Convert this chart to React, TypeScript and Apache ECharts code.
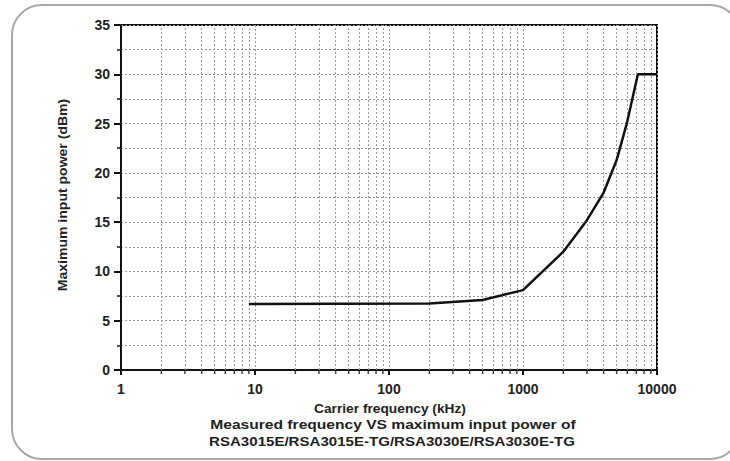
import React, { useEffect, useRef } from "react";
import * as echarts from "echarts";

const freqKHz = [9, 200, 500, 1000, 2000, 3000, 4000, 5000, 6000, 7200, 10000];
const maxPowerDbm = [6.7, 6.75, 7.1, 8.1, 12, 15.2, 18, 21.3, 25.2, 30, 30];
const minorFreqs = [
  2, 3, 4, 5, 6, 7, 8, 9,
  20, 30, 40, 50, 60, 70, 80, 90,
  200, 300, 400, 500, 600, 700, 800, 900,
  2000, 3000, 4000, 5000, 6000, 7000, 8000, 9000,
];
const xAxisTitle = "Carrier frequency (kHz)";
const yAxisTitle = "Maximum input power (dBm)";
const captionLines = [
  "Measured frequency VS maximum input power of",
  "RSA3015E/RSA3015E-TG/RSA3030E/RSA3030E-TG",
];

const FONT = "'Liberation Sans', Arial, sans-serif";

export default function App() {
  const ref = useRef<HTMLDivElement>(null);
  useEffect(() => {
    if (!ref.current) return;
    const chart = echarts.init(ref.current, undefined, { renderer: "svg" });
    const gridColor = "#999999";
    chart.setOption({
      animation: false,
      backgroundColor: "#ffffff",
      grid: {
        left: 121,
        right: 73,
        top: 25,
        bottom: 91,
        show: true,
        borderColor: "#111",
        borderWidth: 2,
      },
      xAxis: {
        type: "log",
        logBase: 10,
        min: 1,
        max: 10000,
        axisLine: { show: true, lineStyle: { color: "#111", width: 2 } },
        axisTick: { show: true, length: 5, lineStyle: { color: "#111", width: 2 } },
        axisLabel: {
          color: "#222",
          fontFamily: FONT,
          fontWeight: "bold",
          fontSize: 14,
          margin: 12,
          formatter: (v: number) => String(Math.round(v)),
        },
        splitLine: { show: true, lineStyle: { color: gridColor, type: [2, 2], width: 1 } },
        minorTick: { show: false },
      },
      yAxis: {
        type: "value",
        min: 0,
        max: 35,
        interval: 5,
        axisLine: { show: true, lineStyle: { color: "#111", width: 2 } },
        axisTick: { show: true, length: 7, lineStyle: { color: "#111", width: 2 } },
        minorTick: { show: true, splitNumber: 2, length: 4, lineStyle: { color: "#111", width: 1.5 } },
        axisLabel: {
          color: "#222",
          fontFamily: FONT,
          fontWeight: "bold",
          fontSize: 14,
          margin: 11,
        },
        splitLine: { show: true, lineStyle: { color: gridColor, type: [2, 2], width: 1 } },
        minorSplitLine: { show: true, lineStyle: { color: gridColor, type: [2, 2], width: 1 } },
      },
      series: [
        {
          type: "line",
          data: freqKHz.map((f, i) => [f, maxPowerDbm[i]]),
          showSymbol: false,
          symbol: "none",
          lineStyle: { color: "#111", width: 2.5 },
          z: 5,
          markLine: {
            silent: true,
            symbol: "none",
            label: { show: false },
            lineStyle: { color: gridColor, type: [2, 2], width: 1 },
            data: minorFreqs.map((f) => ({ xAxis: f })),
          },
        },
        {
          type: "scatter",
          data: minorFreqs.map((f) => [f, 0]),
          symbol: "rect",
          symbolSize: [1.5, 4],
          symbolOffset: [0, 2],
          itemStyle: { color: "#111" },
          silent: true,
          z: 6,
        },
      ],
      graphic: [
        {
          type: "rect",
          shape: { x: 12, y: 5, width: 728, height: 454, r: 30 },
          style: { fill: "none", stroke: "#a8a8a8", lineWidth: 2 },
          silent: true,
          z: -10,
        },
        {
          type: "text",
          x: 63,
          y: 195,
          rotation: Math.PI / 2,
          style: {
            text: yAxisTitle,
            font: `bold 13px ${FONT}`,
            fill: "#222",
            align: "center",
            verticalAlign: "middle",
          },
          scaleX: 1.08,
        },
        {
          type: "text",
          x: 390,
          y: 409,
          scaleX: 1.1,
          style: {
            text: xAxisTitle,
            font: `bold 12.5px ${FONT}`,
            fill: "#222",
            align: "center",
            verticalAlign: "middle",
          },
        },
        {
          type: "text",
          x: 393,
          y: 424,
          scaleX: 1.2,
          style: {
            text: captionLines[0],
            font: `bold 13px ${FONT}`,
            fill: "#222",
            align: "center",
            verticalAlign: "middle",
          },
        },
        {
          type: "text",
          x: 392,
          y: 441,
          scaleX: 1.16,
          style: {
            text: captionLines[1],
            font: `bold 13px ${FONT}`,
            fill: "#222",
            align: "center",
            verticalAlign: "middle",
          },
        },
      ],
    });
    return () => chart.dispose();
  }, []);
  return <div ref={ref} style={{ width: 730, height: 461, position: "absolute", left: 0, top: 0 }} />;
}
